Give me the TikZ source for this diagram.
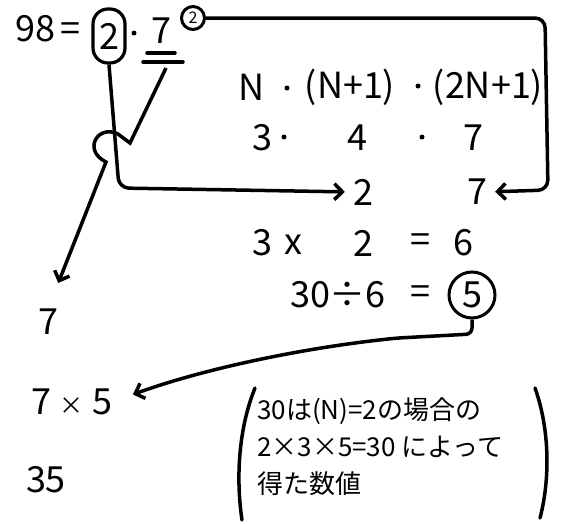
\documentclass[tikz,border=0pt]{standalone}
\usepackage{fontspec}
\setmainfont{Noto Sans CJK JP}
\usepackage{tikz}
\usetikzlibrary{positioning,arrows.meta}

\begin{document}
\begin{tikzpicture}[
    x=1pt, y=-1pt,
    font=\fontsize{36}{40}\selectfont,
    num/.style={inner sep=0pt},
    dot/.style={fill, circle, inner sep=0pt, minimum size=5pt},
    ring/.style={draw, circle, line width=3pt, inner sep=1pt},
    arr/.style={-{Straight Barb[length=8pt, width=16pt]}, line width=3.5pt, shorten >=8pt},
    pen/.style={line width=3.5pt, line cap=round, line join=round},
]
\useasboundingbox (0,0) rectangle (563,523);

% top equation
\node[num] (lhs) at (48,29) {98\,=};
\node[draw, line width=3.2pt, rounded corners=15pt, minimum width=32pt, minimum height=54pt, inner sep=0pt] (two) at (109,36) {2};
\node[dot] (dotA) at (134,33) {};
\node[num] (seven) at (161,31) {7};
\node[ring, font=\fontsize{16}{18}\selectfont, minimum size=23pt] (exp) at (193,18) {2};
\draw[pen] (147,53) -- (175,53);
\draw[pen] (143,62) -- (183,62);
\coordinate (ul) at (166,68);

% formula rows
\node[num] (fN) at (252,87) {N};
\node[dot] (f1) at (287,88) {};
\node[num] (fN1) at (350,87) {(N+1)};
\node[dot] (f2) at (418,86) {};
\node[num] (f2N1) at (488,87) {(2N+1)};
\node[num] (a3) at (262,138) {3};
\node[dot] (d1) at (284,137) {};
\node[num] (a4) at (357,138) {4};
\node[dot] (d2) at (422,137) {};
\node[num] (a7) at (473,138) {7};
\node[num] (twoB) at (363,192) {2};
\node[num] (sevenB) at (477,192) {7};
\node[num] (b3) at (262,243) {3};
\node[num] (bx) at (293,245) {x};
\node[num] (b2) at (363,243) {2};
\node[num] (beq) at (420,243) {=};
\node[num] (b6) at (463,243) {6};
\node[num] (div) at (338,295) {30÷6};
\node[num] (ceq) at (420,295) {=};
\node[ring, minimum width=46pt, minimum height=44pt] (five) at (472,295) {5};

% left column
\node[num] (sevenL) at (48,322) {7};
\node[num] (prod) at (72,402) {7 {\fontsize{24}{28}\selectfont ×} 5};
\node[num] (res) at (46,480) {35};

% note
\node[num, anchor=west, align=left, font=\fontsize{26}{37}\selectfont] (note) at (257,447) {30は(N)=2の場合の\\2×3×5=30 によって\\得た数値};
\draw[pen] (255,388) .. controls (238,430) and (236,480) .. (242,520);
\draw[pen] (535,388) .. controls (550,430) and (550,480) .. (540,518);

% connectors
\draw[arr, rounded corners=10pt] (two.south) -- (119,188) -- (twoB.west);
\draw[arr, shorten >=28pt] (ul) -- (130,143) -- (118,134) .. controls (98,124) and (82,150) .. (106,162) -- (sevenL.north);
\draw[arr, rounded corners=10pt] (exp.east) -- (545,18) -- (548,190) -- (sevenB.east);
\draw[arr, shorten >=22pt, rounded corners=6pt] (five.south) -- (472,334) -- (398,338) .. controls (300,348) and (200,370) .. (prod.east);
\end{tikzpicture}
\end{document}
